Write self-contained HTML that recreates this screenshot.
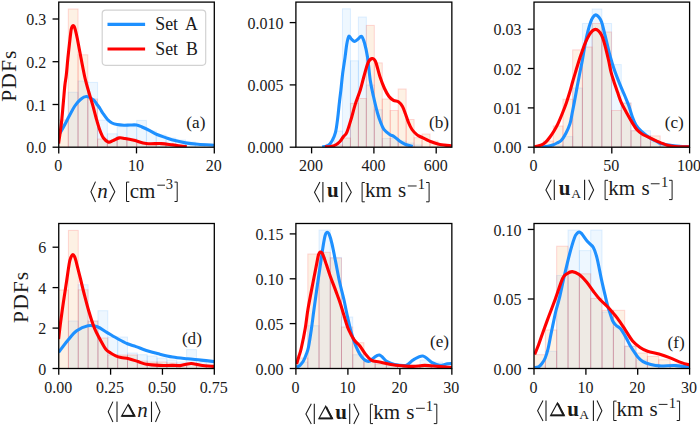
<!DOCTYPE html>
<html><head><meta charset="utf-8"><style>
html,body{margin:0;padding:0;background:#fff;width:700px;height:425px;overflow:hidden;}
svg{display:block;font-family:"Liberation Serif",serif;}
</style></head><body>
<svg width="700" height="425" viewBox="0 0 700 425"><defs>
<clipPath id="c00"><rect x="58.75" y="2.10" width="155.55" height="145.10"/></clipPath>
<clipPath id="c10"><rect x="58.75" y="223.50" width="155.55" height="145.00"/></clipPath>
<clipPath id="c01"><rect x="295.90" y="2.10" width="155.95" height="145.10"/></clipPath>
<clipPath id="c11"><rect x="295.90" y="223.50" width="155.95" height="145.00"/></clipPath>
<clipPath id="c02"><rect x="534.00" y="2.10" width="155.60" height="145.10"/></clipPath>
<clipPath id="c12"><rect x="534.00" y="223.50" width="155.60" height="145.00"/></clipPath>
</defs>
<rect x="68.27" y="92.30" width="9.77" height="54.90" fill="rgba(30,144,255,0.075)" stroke="rgba(30,144,255,0.13)" stroke-width="1" clip-path="url(#c00)"/>
<rect x="78.04" y="81.00" width="9.77" height="66.20" fill="rgba(30,144,255,0.075)" stroke="rgba(30,144,255,0.13)" stroke-width="1" clip-path="url(#c00)"/>
<rect x="87.81" y="82.40" width="9.77" height="64.80" fill="rgba(30,144,255,0.075)" stroke="rgba(30,144,255,0.13)" stroke-width="1" clip-path="url(#c00)"/>
<rect x="97.58" y="120.20" width="9.77" height="27.00" fill="rgba(30,144,255,0.075)" stroke="rgba(30,144,255,0.13)" stroke-width="1" clip-path="url(#c00)"/>
<rect x="107.35" y="133.80" width="9.77" height="13.40" fill="rgba(30,144,255,0.075)" stroke="rgba(30,144,255,0.13)" stroke-width="1" clip-path="url(#c00)"/>
<rect x="117.12" y="126.70" width="9.77" height="20.50" fill="rgba(30,144,255,0.075)" stroke="rgba(30,144,255,0.13)" stroke-width="1" clip-path="url(#c00)"/>
<rect x="126.89" y="126.70" width="9.77" height="20.50" fill="rgba(30,144,255,0.075)" stroke="rgba(30,144,255,0.13)" stroke-width="1" clip-path="url(#c00)"/>
<rect x="136.66" y="120.40" width="9.77" height="26.80" fill="rgba(30,144,255,0.075)" stroke="rgba(30,144,255,0.13)" stroke-width="1" clip-path="url(#c00)"/>
<rect x="146.43" y="131.00" width="9.77" height="16.20" fill="rgba(30,144,255,0.075)" stroke="rgba(30,144,255,0.13)" stroke-width="1" clip-path="url(#c00)"/>
<rect x="156.20" y="135.00" width="9.77" height="12.20" fill="rgba(30,144,255,0.075)" stroke="rgba(30,144,255,0.13)" stroke-width="1" clip-path="url(#c00)"/>
<rect x="165.97" y="138.00" width="9.77" height="9.20" fill="rgba(30,144,255,0.075)" stroke="rgba(30,144,255,0.13)" stroke-width="1" clip-path="url(#c00)"/>
<rect x="175.74" y="140.00" width="9.77" height="7.20" fill="rgba(30,144,255,0.075)" stroke="rgba(30,144,255,0.13)" stroke-width="1" clip-path="url(#c00)"/>
<rect x="185.51" y="142.00" width="9.77" height="5.20" fill="rgba(30,144,255,0.075)" stroke="rgba(30,144,255,0.13)" stroke-width="1" clip-path="url(#c00)"/>
<rect x="195.28" y="144.00" width="9.77" height="3.20" fill="rgba(30,144,255,0.075)" stroke="rgba(30,144,255,0.13)" stroke-width="1" clip-path="url(#c00)"/>
<rect x="58.50" y="120.00" width="9.77" height="27.20" fill="rgba(240,140,30,0.12)" stroke="rgba(255,0,0,0.15)" stroke-width="1" clip-path="url(#c00)"/>
<rect x="68.27" y="9.00" width="9.77" height="138.20" fill="rgba(240,140,30,0.12)" stroke="rgba(255,0,0,0.15)" stroke-width="1" clip-path="url(#c00)"/>
<rect x="78.04" y="54.80" width="9.77" height="92.40" fill="rgba(240,140,30,0.12)" stroke="rgba(255,0,0,0.15)" stroke-width="1" clip-path="url(#c00)"/>
<rect x="87.81" y="99.00" width="9.77" height="48.20" fill="rgba(240,140,30,0.12)" stroke="rgba(255,0,0,0.15)" stroke-width="1" clip-path="url(#c00)"/>
<rect x="97.58" y="139.00" width="9.77" height="8.20" fill="rgba(240,140,30,0.12)" stroke="rgba(255,0,0,0.15)" stroke-width="1" clip-path="url(#c00)"/>
<rect x="107.35" y="140.30" width="9.77" height="6.90" fill="rgba(240,140,30,0.12)" stroke="rgba(255,0,0,0.15)" stroke-width="1" clip-path="url(#c00)"/>
<rect x="117.12" y="137.70" width="9.77" height="9.50" fill="rgba(240,140,30,0.12)" stroke="rgba(255,0,0,0.15)" stroke-width="1" clip-path="url(#c00)"/>
<rect x="126.89" y="139.00" width="9.77" height="8.20" fill="rgba(240,140,30,0.12)" stroke="rgba(255,0,0,0.15)" stroke-width="1" clip-path="url(#c00)"/>
<rect x="136.66" y="143.00" width="9.77" height="4.20" fill="rgba(240,140,30,0.12)" stroke="rgba(255,0,0,0.15)" stroke-width="1" clip-path="url(#c00)"/>
<rect x="146.43" y="143.00" width="9.77" height="4.20" fill="rgba(240,140,30,0.12)" stroke="rgba(255,0,0,0.15)" stroke-width="1" clip-path="url(#c00)"/>
<rect x="156.20" y="144.00" width="9.77" height="3.20" fill="rgba(240,140,30,0.12)" stroke="rgba(255,0,0,0.15)" stroke-width="1" clip-path="url(#c00)"/>
<rect x="165.97" y="145.00" width="9.77" height="2.20" fill="rgba(240,140,30,0.12)" stroke="rgba(255,0,0,0.15)" stroke-width="1" clip-path="url(#c00)"/>
<rect x="175.74" y="145.50" width="9.77" height="1.70" fill="rgba(240,140,30,0.12)" stroke="rgba(255,0,0,0.15)" stroke-width="1" clip-path="url(#c00)"/>
<rect x="326.55" y="144.00" width="7.96" height="3.20" fill="rgba(30,144,255,0.075)" stroke="rgba(30,144,255,0.13)" stroke-width="1" clip-path="url(#c01)"/>
<rect x="334.51" y="131.00" width="7.96" height="16.20" fill="rgba(30,144,255,0.075)" stroke="rgba(30,144,255,0.13)" stroke-width="1" clip-path="url(#c01)"/>
<rect x="342.47" y="8.80" width="7.96" height="138.40" fill="rgba(30,144,255,0.075)" stroke="rgba(30,144,255,0.13)" stroke-width="1" clip-path="url(#c01)"/>
<rect x="350.42" y="60.80" width="7.96" height="86.40" fill="rgba(30,144,255,0.075)" stroke="rgba(30,144,255,0.13)" stroke-width="1" clip-path="url(#c01)"/>
<rect x="358.38" y="17.00" width="7.96" height="130.20" fill="rgba(30,144,255,0.075)" stroke="rgba(30,144,255,0.13)" stroke-width="1" clip-path="url(#c01)"/>
<rect x="366.34" y="85.00" width="7.96" height="62.20" fill="rgba(30,144,255,0.075)" stroke="rgba(30,144,255,0.13)" stroke-width="1" clip-path="url(#c01)"/>
<rect x="374.30" y="109.70" width="7.96" height="37.50" fill="rgba(30,144,255,0.075)" stroke="rgba(30,144,255,0.13)" stroke-width="1" clip-path="url(#c01)"/>
<rect x="382.26" y="138.50" width="7.96" height="8.70" fill="rgba(30,144,255,0.075)" stroke="rgba(30,144,255,0.13)" stroke-width="1" clip-path="url(#c01)"/>
<rect x="390.21" y="138.50" width="7.96" height="8.70" fill="rgba(30,144,255,0.075)" stroke="rgba(30,144,255,0.13)" stroke-width="1" clip-path="url(#c01)"/>
<rect x="398.17" y="141.00" width="7.96" height="6.20" fill="rgba(30,144,255,0.075)" stroke="rgba(30,144,255,0.13)" stroke-width="1" clip-path="url(#c01)"/>
<rect x="406.13" y="143.00" width="7.96" height="4.20" fill="rgba(30,144,255,0.075)" stroke="rgba(30,144,255,0.13)" stroke-width="1" clip-path="url(#c01)"/>
<rect x="414.09" y="145.00" width="7.96" height="2.20" fill="rgba(30,144,255,0.075)" stroke="rgba(30,144,255,0.13)" stroke-width="1" clip-path="url(#c01)"/>
<rect x="326.55" y="145.00" width="7.96" height="2.20" fill="rgba(240,140,30,0.12)" stroke="rgba(255,0,0,0.15)" stroke-width="1" clip-path="url(#c01)"/>
<rect x="334.51" y="145.00" width="7.96" height="2.20" fill="rgba(240,140,30,0.12)" stroke="rgba(255,0,0,0.15)" stroke-width="1" clip-path="url(#c01)"/>
<rect x="342.47" y="138.00" width="7.96" height="9.20" fill="rgba(240,140,30,0.12)" stroke="rgba(255,0,0,0.15)" stroke-width="1" clip-path="url(#c01)"/>
<rect x="350.42" y="103.40" width="7.96" height="43.80" fill="rgba(240,140,30,0.12)" stroke="rgba(255,0,0,0.15)" stroke-width="1" clip-path="url(#c01)"/>
<rect x="358.38" y="98.50" width="7.96" height="48.70" fill="rgba(240,140,30,0.12)" stroke="rgba(255,0,0,0.15)" stroke-width="1" clip-path="url(#c01)"/>
<rect x="366.34" y="25.40" width="7.96" height="121.80" fill="rgba(240,140,30,0.12)" stroke="rgba(255,0,0,0.15)" stroke-width="1" clip-path="url(#c01)"/>
<rect x="374.30" y="62.90" width="7.96" height="84.30" fill="rgba(240,140,30,0.12)" stroke="rgba(255,0,0,0.15)" stroke-width="1" clip-path="url(#c01)"/>
<rect x="382.26" y="99.00" width="7.96" height="48.20" fill="rgba(240,140,30,0.12)" stroke="rgba(255,0,0,0.15)" stroke-width="1" clip-path="url(#c01)"/>
<rect x="390.21" y="110.50" width="7.96" height="36.70" fill="rgba(240,140,30,0.12)" stroke="rgba(255,0,0,0.15)" stroke-width="1" clip-path="url(#c01)"/>
<rect x="398.17" y="89.00" width="7.96" height="58.20" fill="rgba(240,140,30,0.12)" stroke="rgba(255,0,0,0.15)" stroke-width="1" clip-path="url(#c01)"/>
<rect x="406.13" y="119.50" width="7.96" height="27.70" fill="rgba(240,140,30,0.12)" stroke="rgba(255,0,0,0.15)" stroke-width="1" clip-path="url(#c01)"/>
<rect x="414.09" y="137.70" width="7.96" height="9.50" fill="rgba(240,140,30,0.12)" stroke="rgba(255,0,0,0.15)" stroke-width="1" clip-path="url(#c01)"/>
<rect x="422.05" y="134.00" width="7.96" height="13.20" fill="rgba(240,140,30,0.12)" stroke="rgba(255,0,0,0.15)" stroke-width="1" clip-path="url(#c01)"/>
<rect x="430.00" y="141.00" width="7.96" height="6.20" fill="rgba(240,140,30,0.12)" stroke="rgba(255,0,0,0.15)" stroke-width="1" clip-path="url(#c01)"/>
<rect x="437.96" y="144.00" width="7.96" height="3.20" fill="rgba(240,140,30,0.12)" stroke="rgba(255,0,0,0.15)" stroke-width="1" clip-path="url(#c01)"/>
<rect x="445.92" y="145.50" width="7.96" height="1.70" fill="rgba(240,140,30,0.12)" stroke="rgba(255,0,0,0.15)" stroke-width="1" clip-path="url(#c01)"/>
<rect x="553.24" y="145.00" width="9.72" height="2.20" fill="rgba(30,144,255,0.075)" stroke="rgba(30,144,255,0.13)" stroke-width="1" clip-path="url(#c02)"/>
<rect x="562.96" y="136.60" width="9.72" height="10.60" fill="rgba(30,144,255,0.075)" stroke="rgba(30,144,255,0.13)" stroke-width="1" clip-path="url(#c02)"/>
<rect x="572.68" y="88.00" width="9.72" height="59.20" fill="rgba(30,144,255,0.075)" stroke="rgba(30,144,255,0.13)" stroke-width="1" clip-path="url(#c02)"/>
<rect x="582.40" y="23.50" width="9.72" height="123.70" fill="rgba(30,144,255,0.075)" stroke="rgba(30,144,255,0.13)" stroke-width="1" clip-path="url(#c02)"/>
<rect x="592.12" y="9.00" width="9.72" height="138.20" fill="rgba(30,144,255,0.075)" stroke="rgba(30,144,255,0.13)" stroke-width="1" clip-path="url(#c02)"/>
<rect x="601.84" y="23.50" width="9.72" height="123.70" fill="rgba(30,144,255,0.075)" stroke="rgba(30,144,255,0.13)" stroke-width="1" clip-path="url(#c02)"/>
<rect x="611.56" y="64.60" width="9.72" height="82.60" fill="rgba(30,144,255,0.075)" stroke="rgba(30,144,255,0.13)" stroke-width="1" clip-path="url(#c02)"/>
<rect x="621.28" y="103.00" width="9.72" height="44.20" fill="rgba(30,144,255,0.075)" stroke="rgba(30,144,255,0.13)" stroke-width="1" clip-path="url(#c02)"/>
<rect x="631.00" y="130.70" width="9.72" height="16.50" fill="rgba(30,144,255,0.075)" stroke="rgba(30,144,255,0.13)" stroke-width="1" clip-path="url(#c02)"/>
<rect x="640.72" y="130.70" width="9.72" height="16.50" fill="rgba(30,144,255,0.075)" stroke="rgba(30,144,255,0.13)" stroke-width="1" clip-path="url(#c02)"/>
<rect x="650.44" y="142.00" width="9.72" height="5.20" fill="rgba(30,144,255,0.075)" stroke="rgba(30,144,255,0.13)" stroke-width="1" clip-path="url(#c02)"/>
<rect x="660.16" y="145.00" width="9.72" height="2.20" fill="rgba(30,144,255,0.075)" stroke="rgba(30,144,255,0.13)" stroke-width="1" clip-path="url(#c02)"/>
<rect x="543.52" y="141.00" width="9.72" height="6.20" fill="rgba(240,140,30,0.12)" stroke="rgba(255,0,0,0.15)" stroke-width="1" clip-path="url(#c02)"/>
<rect x="553.24" y="126.00" width="9.72" height="21.20" fill="rgba(240,140,30,0.12)" stroke="rgba(255,0,0,0.15)" stroke-width="1" clip-path="url(#c02)"/>
<rect x="562.96" y="99.20" width="9.72" height="48.00" fill="rgba(240,140,30,0.12)" stroke="rgba(255,0,0,0.15)" stroke-width="1" clip-path="url(#c02)"/>
<rect x="572.68" y="49.90" width="9.72" height="97.30" fill="rgba(240,140,30,0.12)" stroke="rgba(255,0,0,0.15)" stroke-width="1" clip-path="url(#c02)"/>
<rect x="582.40" y="47.00" width="9.72" height="100.20" fill="rgba(240,140,30,0.12)" stroke="rgba(255,0,0,0.15)" stroke-width="1" clip-path="url(#c02)"/>
<rect x="592.12" y="23.50" width="9.72" height="123.70" fill="rgba(240,140,30,0.12)" stroke="rgba(255,0,0,0.15)" stroke-width="1" clip-path="url(#c02)"/>
<rect x="601.84" y="32.00" width="9.72" height="115.20" fill="rgba(240,140,30,0.12)" stroke="rgba(255,0,0,0.15)" stroke-width="1" clip-path="url(#c02)"/>
<rect x="611.56" y="110.50" width="9.72" height="36.70" fill="rgba(240,140,30,0.12)" stroke="rgba(255,0,0,0.15)" stroke-width="1" clip-path="url(#c02)"/>
<rect x="621.28" y="103.00" width="9.72" height="44.20" fill="rgba(240,140,30,0.12)" stroke="rgba(255,0,0,0.15)" stroke-width="1" clip-path="url(#c02)"/>
<rect x="631.00" y="130.70" width="9.72" height="16.50" fill="rgba(240,140,30,0.12)" stroke="rgba(255,0,0,0.15)" stroke-width="1" clip-path="url(#c02)"/>
<rect x="640.72" y="135.90" width="9.72" height="11.30" fill="rgba(240,140,30,0.12)" stroke="rgba(255,0,0,0.15)" stroke-width="1" clip-path="url(#c02)"/>
<rect x="650.44" y="135.90" width="9.72" height="11.30" fill="rgba(240,140,30,0.12)" stroke="rgba(255,0,0,0.15)" stroke-width="1" clip-path="url(#c02)"/>
<rect x="660.16" y="144.00" width="9.72" height="3.20" fill="rgba(240,140,30,0.12)" stroke="rgba(255,0,0,0.15)" stroke-width="1" clip-path="url(#c02)"/>
<rect x="669.88" y="145.00" width="9.72" height="2.20" fill="rgba(240,140,30,0.12)" stroke="rgba(255,0,0,0.15)" stroke-width="1" clip-path="url(#c02)"/>
<rect x="68.40" y="321.00" width="9.85" height="47.50" fill="rgba(30,144,255,0.075)" stroke="rgba(30,144,255,0.13)" stroke-width="1" clip-path="url(#c10)"/>
<rect x="78.25" y="284.70" width="9.85" height="83.80" fill="rgba(30,144,255,0.075)" stroke="rgba(30,144,255,0.13)" stroke-width="1" clip-path="url(#c10)"/>
<rect x="88.10" y="321.00" width="9.85" height="47.50" fill="rgba(30,144,255,0.075)" stroke="rgba(30,144,255,0.13)" stroke-width="1" clip-path="url(#c10)"/>
<rect x="97.95" y="310.70" width="9.85" height="57.80" fill="rgba(30,144,255,0.075)" stroke="rgba(30,144,255,0.13)" stroke-width="1" clip-path="url(#c10)"/>
<rect x="107.80" y="337.00" width="9.85" height="31.50" fill="rgba(30,144,255,0.075)" stroke="rgba(30,144,255,0.13)" stroke-width="1" clip-path="url(#c10)"/>
<rect x="117.65" y="337.00" width="9.85" height="31.50" fill="rgba(30,144,255,0.075)" stroke="rgba(30,144,255,0.13)" stroke-width="1" clip-path="url(#c10)"/>
<rect x="127.50" y="353.00" width="9.85" height="15.50" fill="rgba(30,144,255,0.075)" stroke="rgba(30,144,255,0.13)" stroke-width="1" clip-path="url(#c10)"/>
<rect x="137.35" y="354.70" width="9.85" height="13.80" fill="rgba(30,144,255,0.075)" stroke="rgba(30,144,255,0.13)" stroke-width="1" clip-path="url(#c10)"/>
<rect x="147.20" y="356.00" width="9.85" height="12.50" fill="rgba(30,144,255,0.075)" stroke="rgba(30,144,255,0.13)" stroke-width="1" clip-path="url(#c10)"/>
<rect x="157.05" y="358.00" width="9.85" height="10.50" fill="rgba(30,144,255,0.075)" stroke="rgba(30,144,255,0.13)" stroke-width="1" clip-path="url(#c10)"/>
<rect x="166.90" y="360.00" width="9.85" height="8.50" fill="rgba(30,144,255,0.075)" stroke="rgba(30,144,255,0.13)" stroke-width="1" clip-path="url(#c10)"/>
<rect x="176.75" y="362.00" width="9.85" height="6.50" fill="rgba(30,144,255,0.075)" stroke="rgba(30,144,255,0.13)" stroke-width="1" clip-path="url(#c10)"/>
<rect x="186.60" y="349.60" width="9.85" height="18.90" fill="rgba(30,144,255,0.075)" stroke="rgba(30,144,255,0.13)" stroke-width="1" clip-path="url(#c10)"/>
<rect x="196.45" y="362.00" width="9.85" height="6.50" fill="rgba(30,144,255,0.075)" stroke="rgba(30,144,255,0.13)" stroke-width="1" clip-path="url(#c10)"/>
<rect x="206.30" y="364.00" width="9.85" height="4.50" fill="rgba(30,144,255,0.075)" stroke="rgba(30,144,255,0.13)" stroke-width="1" clip-path="url(#c10)"/>
<rect x="58.55" y="290.00" width="9.85" height="78.50" fill="rgba(240,140,30,0.12)" stroke="rgba(255,0,0,0.15)" stroke-width="1" clip-path="url(#c10)"/>
<rect x="68.40" y="230.40" width="9.85" height="138.10" fill="rgba(240,140,30,0.12)" stroke="rgba(255,0,0,0.15)" stroke-width="1" clip-path="url(#c10)"/>
<rect x="78.25" y="289.80" width="9.85" height="78.70" fill="rgba(240,140,30,0.12)" stroke="rgba(255,0,0,0.15)" stroke-width="1" clip-path="url(#c10)"/>
<rect x="88.10" y="321.00" width="9.85" height="47.50" fill="rgba(240,140,30,0.12)" stroke="rgba(255,0,0,0.15)" stroke-width="1" clip-path="url(#c10)"/>
<rect x="97.95" y="338.00" width="9.85" height="30.50" fill="rgba(240,140,30,0.12)" stroke="rgba(255,0,0,0.15)" stroke-width="1" clip-path="url(#c10)"/>
<rect x="107.80" y="355.00" width="9.85" height="13.50" fill="rgba(240,140,30,0.12)" stroke="rgba(255,0,0,0.15)" stroke-width="1" clip-path="url(#c10)"/>
<rect x="117.65" y="355.00" width="9.85" height="13.50" fill="rgba(240,140,30,0.12)" stroke="rgba(255,0,0,0.15)" stroke-width="1" clip-path="url(#c10)"/>
<rect x="127.50" y="355.00" width="9.85" height="13.50" fill="rgba(240,140,30,0.12)" stroke="rgba(255,0,0,0.15)" stroke-width="1" clip-path="url(#c10)"/>
<rect x="137.35" y="361.00" width="9.85" height="7.50" fill="rgba(240,140,30,0.12)" stroke="rgba(255,0,0,0.15)" stroke-width="1" clip-path="url(#c10)"/>
<rect x="147.20" y="362.00" width="9.85" height="6.50" fill="rgba(240,140,30,0.12)" stroke="rgba(255,0,0,0.15)" stroke-width="1" clip-path="url(#c10)"/>
<rect x="157.05" y="362.00" width="9.85" height="6.50" fill="rgba(240,140,30,0.12)" stroke="rgba(255,0,0,0.15)" stroke-width="1" clip-path="url(#c10)"/>
<rect x="166.90" y="363.00" width="9.85" height="5.50" fill="rgba(240,140,30,0.12)" stroke="rgba(255,0,0,0.15)" stroke-width="1" clip-path="url(#c10)"/>
<rect x="176.75" y="364.00" width="9.85" height="4.50" fill="rgba(240,140,30,0.12)" stroke="rgba(255,0,0,0.15)" stroke-width="1" clip-path="url(#c10)"/>
<rect x="186.60" y="364.00" width="9.85" height="4.50" fill="rgba(240,140,30,0.12)" stroke="rgba(255,0,0,0.15)" stroke-width="1" clip-path="url(#c10)"/>
<rect x="196.45" y="366.00" width="9.85" height="2.50" fill="rgba(240,140,30,0.12)" stroke="rgba(255,0,0,0.15)" stroke-width="1" clip-path="url(#c10)"/>
<rect x="206.30" y="366.00" width="9.85" height="2.50" fill="rgba(240,140,30,0.12)" stroke="rgba(255,0,0,0.15)" stroke-width="1" clip-path="url(#c10)"/>
<rect x="296.60" y="362.00" width="11.22" height="6.50" fill="rgba(30,144,255,0.075)" stroke="rgba(30,144,255,0.13)" stroke-width="1" clip-path="url(#c11)"/>
<rect x="307.82" y="325.70" width="11.22" height="42.80" fill="rgba(30,144,255,0.075)" stroke="rgba(30,144,255,0.13)" stroke-width="1" clip-path="url(#c11)"/>
<rect x="319.04" y="230.10" width="11.22" height="138.40" fill="rgba(30,144,255,0.075)" stroke="rgba(30,144,255,0.13)" stroke-width="1" clip-path="url(#c11)"/>
<rect x="330.26" y="257.40" width="11.22" height="111.10" fill="rgba(30,144,255,0.075)" stroke="rgba(30,144,255,0.13)" stroke-width="1" clip-path="url(#c11)"/>
<rect x="341.48" y="317.00" width="11.22" height="51.50" fill="rgba(30,144,255,0.075)" stroke="rgba(30,144,255,0.13)" stroke-width="1" clip-path="url(#c11)"/>
<rect x="352.70" y="354.70" width="11.22" height="13.80" fill="rgba(30,144,255,0.075)" stroke="rgba(30,144,255,0.13)" stroke-width="1" clip-path="url(#c11)"/>
<rect x="363.92" y="362.00" width="11.22" height="6.50" fill="rgba(30,144,255,0.075)" stroke="rgba(30,144,255,0.13)" stroke-width="1" clip-path="url(#c11)"/>
<rect x="375.14" y="362.00" width="11.22" height="6.50" fill="rgba(30,144,255,0.075)" stroke="rgba(30,144,255,0.13)" stroke-width="1" clip-path="url(#c11)"/>
<rect x="386.36" y="364.00" width="11.22" height="4.50" fill="rgba(30,144,255,0.075)" stroke="rgba(30,144,255,0.13)" stroke-width="1" clip-path="url(#c11)"/>
<rect x="397.58" y="365.00" width="11.22" height="3.50" fill="rgba(30,144,255,0.075)" stroke="rgba(30,144,255,0.13)" stroke-width="1" clip-path="url(#c11)"/>
<rect x="408.80" y="365.00" width="11.22" height="3.50" fill="rgba(30,144,255,0.075)" stroke="rgba(30,144,255,0.13)" stroke-width="1" clip-path="url(#c11)"/>
<rect x="420.02" y="360.00" width="11.22" height="8.50" fill="rgba(30,144,255,0.075)" stroke="rgba(30,144,255,0.13)" stroke-width="1" clip-path="url(#c11)"/>
<rect x="431.24" y="362.00" width="11.22" height="6.50" fill="rgba(30,144,255,0.075)" stroke="rgba(30,144,255,0.13)" stroke-width="1" clip-path="url(#c11)"/>
<rect x="442.46" y="366.00" width="11.22" height="2.50" fill="rgba(30,144,255,0.075)" stroke="rgba(30,144,255,0.13)" stroke-width="1" clip-path="url(#c11)"/>
<rect x="296.60" y="358.00" width="11.22" height="10.50" fill="rgba(240,140,30,0.12)" stroke="rgba(255,0,0,0.15)" stroke-width="1" clip-path="url(#c11)"/>
<rect x="307.82" y="254.00" width="11.22" height="114.50" fill="rgba(240,140,30,0.12)" stroke="rgba(255,0,0,0.15)" stroke-width="1" clip-path="url(#c11)"/>
<rect x="319.04" y="252.30" width="11.22" height="116.20" fill="rgba(240,140,30,0.12)" stroke="rgba(255,0,0,0.15)" stroke-width="1" clip-path="url(#c11)"/>
<rect x="330.26" y="258.00" width="11.22" height="110.50" fill="rgba(240,140,30,0.12)" stroke="rgba(255,0,0,0.15)" stroke-width="1" clip-path="url(#c11)"/>
<rect x="341.48" y="327.00" width="11.22" height="41.50" fill="rgba(240,140,30,0.12)" stroke="rgba(255,0,0,0.15)" stroke-width="1" clip-path="url(#c11)"/>
<rect x="352.70" y="342.70" width="11.22" height="25.80" fill="rgba(240,140,30,0.12)" stroke="rgba(255,0,0,0.15)" stroke-width="1" clip-path="url(#c11)"/>
<rect x="363.92" y="360.00" width="11.22" height="8.50" fill="rgba(240,140,30,0.12)" stroke="rgba(255,0,0,0.15)" stroke-width="1" clip-path="url(#c11)"/>
<rect x="375.14" y="364.00" width="11.22" height="4.50" fill="rgba(240,140,30,0.12)" stroke="rgba(255,0,0,0.15)" stroke-width="1" clip-path="url(#c11)"/>
<rect x="386.36" y="365.00" width="11.22" height="3.50" fill="rgba(240,140,30,0.12)" stroke="rgba(255,0,0,0.15)" stroke-width="1" clip-path="url(#c11)"/>
<rect x="397.58" y="366.00" width="11.22" height="2.50" fill="rgba(240,140,30,0.12)" stroke="rgba(255,0,0,0.15)" stroke-width="1" clip-path="url(#c11)"/>
<rect x="408.80" y="366.00" width="11.22" height="2.50" fill="rgba(240,140,30,0.12)" stroke="rgba(255,0,0,0.15)" stroke-width="1" clip-path="url(#c11)"/>
<rect x="420.02" y="366.00" width="11.22" height="2.50" fill="rgba(240,140,30,0.12)" stroke="rgba(255,0,0,0.15)" stroke-width="1" clip-path="url(#c11)"/>
<rect x="431.24" y="366.00" width="11.22" height="2.50" fill="rgba(240,140,30,0.12)" stroke="rgba(255,0,0,0.15)" stroke-width="1" clip-path="url(#c11)"/>
<rect x="442.46" y="367.00" width="11.22" height="1.50" fill="rgba(240,140,30,0.12)" stroke="rgba(255,0,0,0.15)" stroke-width="1" clip-path="url(#c11)"/>
<rect x="534.00" y="366.00" width="11.34" height="2.50" fill="rgba(30,144,255,0.075)" stroke="rgba(30,144,255,0.13)" stroke-width="1" clip-path="url(#c12)"/>
<rect x="545.34" y="351.30" width="11.34" height="17.20" fill="rgba(30,144,255,0.075)" stroke="rgba(30,144,255,0.13)" stroke-width="1" clip-path="url(#c12)"/>
<rect x="556.68" y="275.50" width="11.34" height="93.00" fill="rgba(30,144,255,0.075)" stroke="rgba(30,144,255,0.13)" stroke-width="1" clip-path="url(#c12)"/>
<rect x="568.02" y="230.10" width="11.34" height="138.40" fill="rgba(30,144,255,0.075)" stroke="rgba(30,144,255,0.13)" stroke-width="1" clip-path="url(#c12)"/>
<rect x="579.36" y="250.60" width="11.34" height="117.90" fill="rgba(30,144,255,0.075)" stroke="rgba(30,144,255,0.13)" stroke-width="1" clip-path="url(#c12)"/>
<rect x="590.70" y="230.10" width="11.34" height="138.40" fill="rgba(30,144,255,0.075)" stroke="rgba(30,144,255,0.13)" stroke-width="1" clip-path="url(#c12)"/>
<rect x="602.04" y="312.00" width="11.34" height="56.50" fill="rgba(30,144,255,0.075)" stroke="rgba(30,144,255,0.13)" stroke-width="1" clip-path="url(#c12)"/>
<rect x="613.38" y="327.40" width="11.34" height="41.10" fill="rgba(30,144,255,0.075)" stroke="rgba(30,144,255,0.13)" stroke-width="1" clip-path="url(#c12)"/>
<rect x="624.72" y="346.20" width="11.34" height="22.30" fill="rgba(30,144,255,0.075)" stroke="rgba(30,144,255,0.13)" stroke-width="1" clip-path="url(#c12)"/>
<rect x="636.06" y="360.00" width="11.34" height="8.50" fill="rgba(30,144,255,0.075)" stroke="rgba(30,144,255,0.13)" stroke-width="1" clip-path="url(#c12)"/>
<rect x="647.40" y="364.00" width="11.34" height="4.50" fill="rgba(30,144,255,0.075)" stroke="rgba(30,144,255,0.13)" stroke-width="1" clip-path="url(#c12)"/>
<rect x="658.74" y="365.00" width="11.34" height="3.50" fill="rgba(30,144,255,0.075)" stroke="rgba(30,144,255,0.13)" stroke-width="1" clip-path="url(#c12)"/>
<rect x="670.08" y="366.00" width="11.34" height="2.50" fill="rgba(30,144,255,0.075)" stroke="rgba(30,144,255,0.13)" stroke-width="1" clip-path="url(#c12)"/>
<rect x="681.42" y="366.00" width="11.34" height="2.50" fill="rgba(30,144,255,0.075)" stroke="rgba(30,144,255,0.13)" stroke-width="1" clip-path="url(#c12)"/>
<rect x="534.00" y="354.70" width="11.34" height="13.80" fill="rgba(240,140,30,0.12)" stroke="rgba(255,0,0,0.15)" stroke-width="1" clip-path="url(#c12)"/>
<rect x="545.34" y="330.00" width="11.34" height="38.50" fill="rgba(240,140,30,0.12)" stroke="rgba(255,0,0,0.15)" stroke-width="1" clip-path="url(#c12)"/>
<rect x="556.68" y="246.20" width="11.34" height="122.30" fill="rgba(240,140,30,0.12)" stroke="rgba(255,0,0,0.15)" stroke-width="1" clip-path="url(#c12)"/>
<rect x="568.02" y="272.80" width="11.34" height="95.70" fill="rgba(240,140,30,0.12)" stroke="rgba(255,0,0,0.15)" stroke-width="1" clip-path="url(#c12)"/>
<rect x="579.36" y="273.80" width="11.34" height="94.70" fill="rgba(240,140,30,0.12)" stroke="rgba(255,0,0,0.15)" stroke-width="1" clip-path="url(#c12)"/>
<rect x="590.70" y="298.40" width="11.34" height="70.10" fill="rgba(240,140,30,0.12)" stroke="rgba(255,0,0,0.15)" stroke-width="1" clip-path="url(#c12)"/>
<rect x="602.04" y="310.30" width="11.34" height="58.20" fill="rgba(240,140,30,0.12)" stroke="rgba(255,0,0,0.15)" stroke-width="1" clip-path="url(#c12)"/>
<rect x="613.38" y="310.30" width="11.34" height="58.20" fill="rgba(240,140,30,0.12)" stroke="rgba(255,0,0,0.15)" stroke-width="1" clip-path="url(#c12)"/>
<rect x="624.72" y="346.20" width="11.34" height="22.30" fill="rgba(240,140,30,0.12)" stroke="rgba(255,0,0,0.15)" stroke-width="1" clip-path="url(#c12)"/>
<rect x="636.06" y="353.00" width="11.34" height="15.50" fill="rgba(240,140,30,0.12)" stroke="rgba(255,0,0,0.15)" stroke-width="1" clip-path="url(#c12)"/>
<rect x="647.40" y="356.40" width="11.34" height="12.10" fill="rgba(240,140,30,0.12)" stroke="rgba(255,0,0,0.15)" stroke-width="1" clip-path="url(#c12)"/>
<rect x="658.74" y="359.80" width="11.34" height="8.70" fill="rgba(240,140,30,0.12)" stroke="rgba(255,0,0,0.15)" stroke-width="1" clip-path="url(#c12)"/>
<rect x="670.08" y="364.00" width="11.34" height="4.50" fill="rgba(240,140,30,0.12)" stroke="rgba(255,0,0,0.15)" stroke-width="1" clip-path="url(#c12)"/>
<rect x="681.42" y="366.00" width="11.34" height="2.50" fill="rgba(240,140,30,0.12)" stroke="rgba(255,0,0,0.15)" stroke-width="1" clip-path="url(#c12)"/>
<path d="M58.60,135.50 C59.42,134.08 61.68,130.32 63.50,127.00 C65.32,123.68 67.62,119.10 69.50,115.60 C71.38,112.10 72.97,108.68 74.80,106.00 C76.63,103.32 78.58,101.08 80.50,99.50 C82.42,97.92 84.12,96.42 86.30,96.50 C88.48,96.58 91.82,98.67 93.60,100.00 C95.38,101.33 95.93,103.08 97.00,104.50 C98.07,105.92 99.00,107.00 100.00,108.50 C101.00,110.00 101.75,111.67 103.00,113.50 C104.25,115.33 106.00,117.92 107.50,119.50 C109.00,121.08 110.42,122.15 112.00,123.00 C113.58,123.85 115.00,124.23 117.00,124.60 C119.00,124.97 121.83,125.13 124.00,125.20 C126.17,125.27 127.92,125.03 130.00,125.00 C132.08,124.97 134.50,124.67 136.50,125.00 C138.50,125.33 139.87,126.10 142.00,127.00 C144.13,127.90 146.80,129.15 149.30,130.40 C151.80,131.65 154.27,133.30 157.00,134.50 C159.73,135.70 162.70,136.58 165.70,137.60 C168.70,138.62 171.72,139.72 175.00,140.60 C178.28,141.48 181.57,142.28 185.40,142.90 C189.23,143.52 193.18,143.92 198.00,144.30 C202.82,144.68 211.58,145.05 214.30,145.20" fill="none" stroke="#1e90ff" stroke-width="3.1" stroke-linejoin="round" stroke-linecap="butt" clip-path="url(#c00)"/>
<path d="M58.60,143.50 C59.07,140.12 60.63,129.78 61.40,123.20 C62.17,116.62 62.62,110.37 63.20,104.00 C63.78,97.63 64.38,89.83 64.90,85.00 C65.42,80.17 65.80,79.50 66.30,75.00 C66.80,70.50 67.28,64.00 67.90,58.00 C68.52,52.00 69.45,43.75 70.00,39.00 C70.55,34.25 70.83,31.58 71.20,29.50 C71.57,27.42 71.87,27.15 72.20,26.50 C72.53,25.85 72.87,25.60 73.20,25.60 C73.53,25.60 73.87,25.88 74.20,26.50 C74.53,27.12 74.68,27.30 75.20,29.30 C75.72,31.30 76.32,33.63 77.30,38.50 C78.28,43.37 79.80,51.83 81.10,58.50 C82.40,65.17 83.82,72.92 85.10,78.50 C86.38,84.08 87.57,87.68 88.80,92.00 C90.03,96.32 91.30,100.15 92.50,104.40 C93.70,108.65 94.78,113.23 96.00,117.50 C97.22,121.77 98.55,126.58 99.80,130.00 C101.05,133.42 102.05,135.97 103.50,138.00 C104.95,140.03 106.92,141.77 108.50,142.20 C110.08,142.63 111.22,141.32 113.00,140.60 C114.78,139.88 117.20,138.25 119.20,137.90 C121.20,137.55 122.37,138.05 125.00,138.50 C127.63,138.95 131.45,139.77 135.00,140.60 C138.55,141.43 141.90,143.00 146.30,143.50 C150.70,144.00 157.02,143.37 161.40,143.60 C165.78,143.83 168.37,144.37 172.60,144.90 C176.83,145.43 184.43,146.48 186.80,146.80" fill="none" stroke="#ff0000" stroke-width="3.1" stroke-linejoin="round" stroke-linecap="butt" clip-path="url(#c00)"/>
<path d="M322.20,146.90 C323.17,146.67 326.37,146.48 328.00,145.50 C329.63,144.52 330.75,143.18 332.00,141.00 C333.25,138.82 334.55,136.20 335.50,132.40 C336.45,128.60 337.08,122.92 337.70,118.20 C338.32,113.48 338.67,108.80 339.20,104.10 C339.73,99.40 340.33,95.02 340.90,90.00 C341.47,84.98 341.92,79.40 342.60,74.00 C343.28,68.60 344.30,62.60 345.00,57.60 C345.70,52.60 346.17,47.55 346.80,44.00 C347.43,40.45 348.02,37.10 348.80,36.30 C349.58,35.50 350.55,38.35 351.50,39.20 C352.45,40.05 353.45,41.40 354.50,41.40 C355.55,41.40 356.63,40.05 357.80,39.20 C358.97,38.35 360.38,35.67 361.50,36.30 C362.62,36.93 363.48,39.45 364.50,43.00 C365.52,46.55 366.65,51.43 367.60,57.60 C368.55,63.77 369.22,73.52 370.20,80.00 C371.18,86.48 372.28,91.00 373.50,96.50 C374.72,102.00 376.33,108.75 377.50,113.00 C378.67,117.25 379.43,119.27 380.50,122.00 C381.57,124.73 382.37,127.33 383.90,129.40 C385.43,131.47 388.02,133.22 389.70,134.40 C391.38,135.58 392.37,135.40 394.00,136.50 C395.63,137.60 397.67,139.72 399.50,141.00 C401.33,142.28 402.80,143.30 405.00,144.20 C407.20,145.10 411.42,146.03 412.70,146.40" fill="none" stroke="#1e90ff" stroke-width="3.1" stroke-linejoin="round" stroke-linecap="butt" clip-path="url(#c01)"/>
<path d="M325.00,146.90 C326.00,146.82 329.25,146.72 331.00,146.40 C332.75,146.08 334.00,145.82 335.50,145.00 C337.00,144.18 338.67,142.92 340.00,141.50 C341.33,140.08 342.37,138.02 343.50,136.50 C344.63,134.98 345.48,135.45 346.80,132.40 C348.12,129.35 349.98,122.92 351.40,118.20 C352.82,113.48 353.82,108.80 355.30,104.10 C356.78,99.40 358.87,94.60 360.30,90.00 C361.73,85.40 362.62,81.03 363.90,76.50 C365.18,71.97 366.68,65.78 368.00,62.80 C369.32,59.82 370.55,58.82 371.80,58.60 C373.05,58.38 374.15,58.52 375.50,61.50 C376.85,64.48 378.40,72.00 379.90,76.50 C381.40,81.00 382.98,85.17 384.50,88.50 C386.02,91.83 387.50,94.53 389.00,96.50 C390.50,98.47 391.88,99.38 393.50,100.30 C395.12,101.22 397.20,100.97 398.70,102.00 C400.20,103.03 401.37,104.50 402.50,106.50 C403.63,108.50 404.50,111.33 405.50,114.00 C406.50,116.67 407.42,119.92 408.50,122.50 C409.58,125.08 410.62,127.48 412.00,129.50 C413.38,131.52 415.28,133.35 416.80,134.60 C418.32,135.85 418.82,135.85 421.10,137.00 C423.38,138.15 427.37,140.27 430.50,141.50 C433.63,142.73 436.35,143.68 439.90,144.40 C443.45,145.12 449.82,145.57 451.80,145.80" fill="none" stroke="#ff0000" stroke-width="3.1" stroke-linejoin="round" stroke-linecap="butt" clip-path="url(#c01)"/>
<path d="M541.40,146.80 C542.50,146.72 546.12,146.60 548.00,146.30 C549.88,146.00 551.20,145.55 552.70,145.00 C554.20,144.45 555.58,143.75 557.00,143.00 C558.42,142.25 559.73,142.08 561.20,140.50 C562.67,138.92 564.33,136.32 565.80,133.50 C567.27,130.68 568.93,127.02 570.00,123.60 C571.07,120.18 571.48,116.53 572.20,113.00 C572.92,109.47 573.62,105.98 574.30,102.40 C574.98,98.82 575.65,95.03 576.30,91.50 C576.95,87.97 577.53,84.70 578.20,81.20 C578.87,77.70 579.60,74.03 580.30,70.50 C581.00,66.97 581.55,64.65 582.40,60.00 C583.25,55.35 584.47,47.43 585.40,42.60 C586.33,37.77 587.15,34.35 588.00,31.00 C588.85,27.65 589.67,24.80 590.50,22.50 C591.33,20.20 592.12,18.47 593.00,17.20 C593.88,15.93 594.83,14.93 595.80,14.90 C596.77,14.87 597.83,15.82 598.80,17.00 C599.77,18.18 600.53,18.83 601.60,22.00 C602.67,25.17 604.03,31.33 605.20,36.00 C606.37,40.67 607.78,46.67 608.60,50.00 C609.42,53.33 609.23,52.95 610.10,56.00 C610.97,59.05 612.23,63.73 613.80,68.30 C615.37,72.87 617.62,78.70 619.50,83.40 C621.38,88.10 623.53,92.73 625.10,96.50 C626.67,100.27 627.68,102.58 628.90,106.00 C630.12,109.42 631.22,113.83 632.40,117.00 C633.58,120.17 634.48,122.58 636.00,125.00 C637.52,127.42 638.93,129.17 641.50,131.50 C644.07,133.83 648.82,137.33 651.40,139.00 C653.98,140.67 655.43,140.75 657.00,141.50 C658.57,142.25 657.97,142.80 660.80,143.50 C663.63,144.20 669.20,145.15 674.00,145.70 C678.80,146.25 687.00,146.62 689.60,146.80" fill="none" stroke="#1e90ff" stroke-width="3.1" stroke-linejoin="round" stroke-linecap="butt" clip-path="url(#c02)"/>
<path d="M534.60,146.60 C535.17,146.50 536.75,146.32 538.00,146.00 C539.25,145.68 540.77,145.40 542.10,144.70 C543.43,144.00 544.68,143.08 546.00,141.80 C547.32,140.52 548.67,138.80 550.00,137.00 C551.33,135.20 552.67,133.23 554.00,131.00 C555.33,128.77 556.62,126.52 558.00,123.60 C559.38,120.68 560.88,117.03 562.30,113.50 C563.72,109.97 565.25,105.98 566.50,102.40 C567.75,98.82 568.75,95.53 569.80,92.00 C570.85,88.47 571.77,84.78 572.80,81.20 C573.83,77.62 574.93,74.03 576.00,70.50 C577.07,66.97 578.15,63.25 579.20,60.00 C580.25,56.75 581.27,53.90 582.30,51.00 C583.33,48.10 584.20,45.35 585.40,42.60 C586.60,39.85 588.32,36.47 589.50,34.50 C590.68,32.53 591.50,31.65 592.50,30.80 C593.50,29.95 594.50,29.40 595.50,29.40 C596.50,29.40 597.50,29.87 598.50,30.80 C599.50,31.73 600.55,33.03 601.50,35.00 C602.45,36.97 603.03,38.43 604.20,42.60 C605.37,46.77 607.37,55.10 608.50,60.00 C609.63,64.90 610.12,68.47 611.00,72.00 C611.88,75.53 612.72,77.87 613.80,81.20 C614.88,84.53 616.27,88.47 617.50,92.00 C618.73,95.53 619.62,98.82 621.20,102.40 C622.78,105.98 625.07,109.97 627.00,113.50 C628.93,117.03 631.13,120.88 632.80,123.60 C634.47,126.32 635.40,128.03 637.00,129.80 C638.60,131.57 640.23,132.87 642.40,134.20 C644.57,135.53 647.53,136.62 650.00,137.80 C652.47,138.98 654.45,140.10 657.20,141.30 C659.95,142.50 663.53,144.12 666.50,145.00 C669.47,145.88 671.15,146.30 675.00,146.60 C678.85,146.90 687.17,146.77 689.60,146.80" fill="none" stroke="#ff0000" stroke-width="3.1" stroke-linejoin="round" stroke-linecap="butt" clip-path="url(#c02)"/>
<path d="M58.60,352.40 C60.05,350.50 64.28,344.60 67.30,341.00 C70.32,337.40 73.25,333.35 76.70,330.80 C80.15,328.25 84.55,326.37 88.00,325.70 C91.45,325.03 94.27,325.70 97.40,326.80 C100.53,327.90 103.35,330.27 106.80,332.30 C110.25,334.33 114.65,337.08 118.10,339.00 C121.55,340.92 124.52,342.53 127.50,343.80 C130.48,345.07 132.87,345.50 136.00,346.60 C139.13,347.70 142.38,349.15 146.30,350.40 C150.22,351.65 155.12,353.00 159.50,354.10 C163.88,355.20 167.90,356.22 172.60,357.00 C177.30,357.78 182.98,358.28 187.70,358.80 C192.42,359.32 196.47,359.63 200.90,360.10 C205.33,360.57 212.07,361.35 214.30,361.60" fill="none" stroke="#1e90ff" stroke-width="3.1" stroke-linejoin="round" stroke-linecap="butt" clip-path="url(#c10)"/>
<path d="M58.60,339.00 C58.95,336.08 59.88,327.75 60.70,321.50 C61.52,315.25 62.55,307.98 63.50,301.50 C64.45,295.02 65.45,288.88 66.40,282.60 C67.35,276.32 68.45,268.02 69.20,263.80 C69.95,259.58 70.28,258.83 70.90,257.30 C71.52,255.77 72.23,254.60 72.90,254.60 C73.57,254.60 74.27,255.77 74.90,257.30 C75.53,258.83 75.77,260.20 76.70,263.80 C77.63,267.40 79.25,273.87 80.50,278.90 C81.75,283.93 82.80,288.57 84.20,294.00 C85.60,299.43 87.33,306.17 88.90,311.50 C90.47,316.83 92.30,322.42 93.60,326.00 C94.90,329.58 95.43,330.42 96.70,333.00 C97.97,335.58 99.68,338.80 101.20,341.50 C102.72,344.20 104.23,347.28 105.80,349.20 C107.37,351.12 108.95,351.90 110.60,353.00 C112.25,354.10 113.97,355.05 115.70,355.80 C117.43,356.55 118.82,357.02 121.00,357.50 C123.18,357.98 125.97,358.02 128.80,358.70 C131.63,359.38 135.08,360.67 138.00,361.60 C140.92,362.53 142.72,363.67 146.30,364.30 C149.88,364.93 155.12,365.22 159.50,365.40 C163.88,365.58 169.15,365.37 172.60,365.40 C176.05,365.43 177.97,365.78 180.20,365.60 C182.43,365.42 184.12,364.65 186.00,364.30 C187.88,363.95 189.02,363.35 191.50,363.50 C193.98,363.65 197.10,364.72 200.90,365.20 C204.70,365.68 212.07,366.20 214.30,366.40" fill="none" stroke="#ff0000" stroke-width="3.1" stroke-linejoin="round" stroke-linecap="butt" clip-path="url(#c10)"/>
<path d="M296.60,367.10 C297.17,366.80 298.87,366.32 300.00,365.30 C301.13,364.28 302.40,362.72 303.40,361.00 C304.40,359.28 305.17,357.25 306.00,355.00 C306.83,352.75 307.50,351.83 308.40,347.50 C309.30,343.17 310.48,335.25 311.40,329.00 C312.32,322.75 312.82,317.92 313.90,310.00 C314.98,302.08 316.77,289.40 317.90,281.50 C319.03,273.60 319.77,268.88 320.70,262.60 C321.63,256.32 322.73,248.42 323.50,243.80 C324.27,239.18 324.67,236.82 325.30,234.90 C325.93,232.98 326.62,232.30 327.30,232.30 C327.98,232.30 328.62,232.98 329.40,234.90 C330.18,236.82 330.93,239.18 332.00,243.80 C333.07,248.42 334.55,256.32 335.80,262.60 C337.05,268.88 338.13,275.27 339.50,281.50 C340.87,287.73 342.83,294.92 344.00,300.00 C345.17,305.08 345.27,306.50 346.50,312.00 C347.73,317.50 349.80,327.23 351.40,333.00 C353.00,338.77 354.37,342.60 356.10,346.60 C357.83,350.60 359.75,354.52 361.80,357.00 C363.85,359.48 366.45,361.33 368.40,361.50 C370.35,361.67 371.65,359.08 373.50,358.00 C375.35,356.92 377.23,354.40 379.50,355.00 C381.77,355.60 384.58,360.02 387.10,361.60 C389.62,363.18 391.47,363.87 394.60,364.50 C397.73,365.13 402.77,366.18 405.90,365.40 C409.03,364.62 410.58,361.37 413.40,359.80 C416.22,358.23 419.67,355.53 422.80,356.00 C425.93,356.47 429.37,361.03 432.20,362.60 C435.03,364.17 437.28,365.20 439.80,365.40 C442.32,365.60 445.30,364.12 447.30,363.80 C449.30,363.48 451.05,363.55 451.80,363.50" fill="none" stroke="#1e90ff" stroke-width="3.1" stroke-linejoin="round" stroke-linecap="butt" clip-path="url(#c11)"/>
<path d="M296.60,364.00 C297.00,362.67 298.23,358.58 299.00,356.00 C299.77,353.42 300.15,353.17 301.20,348.50 C302.25,343.83 304.17,334.58 305.30,328.00 C306.43,321.42 306.68,316.75 308.00,309.00 C309.32,301.25 311.72,289.23 313.20,281.50 C314.68,273.77 316.02,267.05 316.90,262.60 C317.78,258.15 317.93,256.57 318.50,254.80 C319.07,253.03 319.67,252.23 320.30,252.00 C320.93,251.77 321.60,252.25 322.30,253.40 C323.00,254.55 323.20,255.17 324.50,258.90 C325.80,262.63 328.22,270.47 330.10,275.80 C331.98,281.13 334.07,286.20 335.80,290.90 C337.53,295.60 338.82,298.82 340.50,304.00 C342.18,309.18 344.55,317.73 345.90,322.00 C347.25,326.27 347.22,326.60 348.60,329.60 C349.98,332.60 352.32,337.27 354.20,340.00 C356.08,342.73 358.02,343.65 359.90,346.00 C361.78,348.35 363.62,351.75 365.50,354.10 C367.38,356.45 368.87,358.78 371.20,360.10 C373.53,361.42 376.23,361.27 379.50,362.00 C382.77,362.73 387.03,363.87 390.80,364.50 C394.57,365.13 398.33,365.48 402.10,365.80 C405.87,366.12 409.63,366.47 413.40,366.40 C417.17,366.33 420.62,365.40 424.70,365.40 C428.78,365.40 433.38,366.03 437.90,366.40 C442.42,366.77 449.48,367.40 451.80,367.60" fill="none" stroke="#ff0000" stroke-width="3.1" stroke-linejoin="round" stroke-linecap="butt" clip-path="url(#c11)"/>
<path d="M534.60,367.50 C535.27,367.38 537.37,367.47 538.60,366.80 C539.83,366.13 540.90,364.97 542.00,363.50 C543.10,362.03 544.20,360.42 545.20,358.00 C546.20,355.58 547.03,353.00 548.00,349.00 C548.97,345.00 550.08,338.50 551.00,334.00 C551.92,329.50 552.67,325.92 553.50,322.00 C554.33,318.08 555.03,314.42 556.00,310.50 C556.97,306.58 557.92,304.25 559.30,298.50 C560.68,292.75 562.58,283.42 564.30,276.00 C566.02,268.58 567.92,260.33 569.60,254.00 C571.28,247.67 573.17,241.42 574.40,238.00 C575.63,234.58 576.22,234.50 577.00,233.50 C577.78,232.50 578.43,232.08 579.10,232.00 C579.77,231.92 580.38,232.48 581.00,233.00 C581.62,233.52 581.72,233.67 582.80,235.10 C583.88,236.53 585.77,239.57 587.50,241.60 C589.23,243.63 591.63,244.63 593.20,247.30 C594.77,249.97 595.50,252.12 596.90,257.60 C598.30,263.08 600.17,273.63 601.60,280.20 C603.03,286.77 604.43,292.53 605.50,297.00 C606.57,301.47 607.25,304.33 608.00,307.00 C608.75,309.67 609.25,310.75 610.00,313.00 C610.75,315.25 611.58,318.53 612.50,320.50 C613.42,322.47 614.42,323.63 615.50,324.80 C616.58,325.97 618.00,326.63 619.00,327.50 C620.00,328.37 620.67,328.92 621.50,330.00 C622.33,331.08 623.17,332.58 624.00,334.00 C624.83,335.42 625.38,336.42 626.50,338.50 C627.62,340.58 629.33,344.13 630.70,346.50 C632.07,348.87 633.45,350.87 634.70,352.70 C635.95,354.53 636.82,356.02 638.20,357.50 C639.58,358.98 641.03,360.48 643.00,361.60 C644.97,362.72 647.27,363.48 650.00,364.20 C652.73,364.92 655.08,365.67 659.40,365.90 C663.72,366.13 670.87,365.40 675.90,365.60 C680.93,365.80 687.32,366.85 689.60,367.10" fill="none" stroke="#1e90ff" stroke-width="3.1" stroke-linejoin="round" stroke-linecap="butt" clip-path="url(#c12)"/>
<path d="M534.60,354.50 C535.25,352.92 537.15,348.58 538.50,345.00 C539.85,341.42 540.97,337.83 542.70,333.00 C544.43,328.17 546.77,321.75 548.90,316.00 C551.03,310.25 553.22,304.75 555.50,298.50 C557.78,292.25 560.68,282.62 562.60,278.50 C564.52,274.38 565.38,274.95 567.00,273.80 C568.62,272.65 570.28,271.47 572.30,271.60 C574.32,271.73 576.72,272.85 579.10,274.60 C581.48,276.35 584.20,279.28 586.60,282.10 C589.00,284.92 591.27,288.60 593.50,291.50 C595.73,294.40 597.70,297.00 600.00,299.50 C602.30,302.00 605.30,304.45 607.30,306.50 C609.30,308.55 610.30,309.82 612.00,311.80 C613.70,313.78 615.32,315.43 617.50,318.40 C619.68,321.37 622.58,325.83 625.10,329.60 C627.62,333.37 630.10,338.02 632.60,341.00 C635.10,343.98 637.60,345.78 640.10,347.50 C642.60,349.22 644.45,350.20 647.60,351.30 C650.75,352.40 655.23,353.00 659.00,354.10 C662.77,355.20 666.45,356.48 670.20,357.90 C673.95,359.32 678.27,361.42 681.50,362.60 C684.73,363.78 688.25,364.60 689.60,365.00" fill="none" stroke="#ff0000" stroke-width="3.1" stroke-linejoin="round" stroke-linecap="butt" clip-path="url(#c12)"/>
<rect x="58.75" y="2.10" width="155.55" height="145.10" fill="none" stroke="#000" stroke-width="1.30"/>
<rect x="295.90" y="2.10" width="155.95" height="145.10" fill="none" stroke="#000" stroke-width="1.30"/>
<rect x="534.00" y="2.10" width="155.60" height="145.10" fill="none" stroke="#000" stroke-width="1.30"/>
<rect x="58.75" y="223.50" width="155.55" height="145.00" fill="none" stroke="#000" stroke-width="1.30"/>
<rect x="295.90" y="223.50" width="155.95" height="145.00" fill="none" stroke="#000" stroke-width="1.30"/>
<rect x="534.00" y="223.50" width="155.60" height="145.00" fill="none" stroke="#000" stroke-width="1.30"/>
<line x1="58.75" y1="147.20" x2="58.75" y2="153.40" stroke="#000" stroke-width="1.30"/>
<text x="58.25" y="170.80" text-anchor="middle" font-size="16" font-family="Liberation Serif, serif" fill="#1a1a1a">0</text>
<line x1="136.50" y1="147.20" x2="136.50" y2="153.40" stroke="#000" stroke-width="1.30"/>
<text x="136.00" y="170.80" text-anchor="middle" font-size="16" font-family="Liberation Serif, serif" fill="#1a1a1a">10</text>
<line x1="214.30" y1="147.20" x2="214.30" y2="153.40" stroke="#000" stroke-width="1.30"/>
<text x="213.80" y="170.80" text-anchor="middle" font-size="16" font-family="Liberation Serif, serif" fill="#1a1a1a">20</text>
<line x1="311.60" y1="147.20" x2="311.60" y2="153.40" stroke="#000" stroke-width="1.30"/>
<text x="311.10" y="170.80" text-anchor="middle" font-size="16" font-family="Liberation Serif, serif" fill="#1a1a1a">200</text>
<line x1="373.90" y1="147.20" x2="373.90" y2="153.40" stroke="#000" stroke-width="1.30"/>
<text x="373.40" y="170.80" text-anchor="middle" font-size="16" font-family="Liberation Serif, serif" fill="#1a1a1a">400</text>
<line x1="436.20" y1="147.20" x2="436.20" y2="153.40" stroke="#000" stroke-width="1.30"/>
<text x="435.70" y="170.80" text-anchor="middle" font-size="16" font-family="Liberation Serif, serif" fill="#1a1a1a">600</text>
<line x1="534.00" y1="147.20" x2="534.00" y2="153.40" stroke="#000" stroke-width="1.30"/>
<text x="533.50" y="170.80" text-anchor="middle" font-size="16" font-family="Liberation Serif, serif" fill="#1a1a1a">0</text>
<line x1="611.80" y1="147.20" x2="611.80" y2="153.40" stroke="#000" stroke-width="1.30"/>
<text x="611.30" y="170.80" text-anchor="middle" font-size="16" font-family="Liberation Serif, serif" fill="#1a1a1a">50</text>
<line x1="689.60" y1="147.20" x2="689.60" y2="153.40" stroke="#000" stroke-width="1.30"/>
<text x="689.10" y="170.80" text-anchor="middle" font-size="16" font-family="Liberation Serif, serif" fill="#1a1a1a">100</text>
<line x1="58.75" y1="368.50" x2="58.75" y2="374.70" stroke="#000" stroke-width="1.30"/>
<text x="58.25" y="392.60" text-anchor="middle" font-size="16" font-family="Liberation Serif, serif" fill="#1a1a1a">0.00</text>
<line x1="110.60" y1="368.50" x2="110.60" y2="374.70" stroke="#000" stroke-width="1.30"/>
<text x="110.10" y="392.60" text-anchor="middle" font-size="16" font-family="Liberation Serif, serif" fill="#1a1a1a">0.25</text>
<line x1="162.45" y1="368.50" x2="162.45" y2="374.70" stroke="#000" stroke-width="1.30"/>
<text x="161.95" y="392.60" text-anchor="middle" font-size="16" font-family="Liberation Serif, serif" fill="#1a1a1a">0.50</text>
<line x1="214.30" y1="368.50" x2="214.30" y2="374.70" stroke="#000" stroke-width="1.30"/>
<text x="213.80" y="392.60" text-anchor="middle" font-size="16" font-family="Liberation Serif, serif" fill="#1a1a1a">0.75</text>
<line x1="295.90" y1="368.50" x2="295.90" y2="374.70" stroke="#000" stroke-width="1.30"/>
<text x="295.40" y="392.60" text-anchor="middle" font-size="16" font-family="Liberation Serif, serif" fill="#1a1a1a">0</text>
<line x1="347.90" y1="368.50" x2="347.90" y2="374.70" stroke="#000" stroke-width="1.30"/>
<text x="347.40" y="392.60" text-anchor="middle" font-size="16" font-family="Liberation Serif, serif" fill="#1a1a1a">10</text>
<line x1="399.90" y1="368.50" x2="399.90" y2="374.70" stroke="#000" stroke-width="1.30"/>
<text x="399.40" y="392.60" text-anchor="middle" font-size="16" font-family="Liberation Serif, serif" fill="#1a1a1a">20</text>
<line x1="451.85" y1="368.50" x2="451.85" y2="374.70" stroke="#000" stroke-width="1.30"/>
<text x="451.35" y="392.60" text-anchor="middle" font-size="16" font-family="Liberation Serif, serif" fill="#1a1a1a">30</text>
<line x1="534.00" y1="368.50" x2="534.00" y2="374.70" stroke="#000" stroke-width="1.30"/>
<text x="533.50" y="392.60" text-anchor="middle" font-size="16" font-family="Liberation Serif, serif" fill="#1a1a1a">0</text>
<line x1="585.90" y1="368.50" x2="585.90" y2="374.70" stroke="#000" stroke-width="1.30"/>
<text x="585.40" y="392.60" text-anchor="middle" font-size="16" font-family="Liberation Serif, serif" fill="#1a1a1a">10</text>
<line x1="637.70" y1="368.50" x2="637.70" y2="374.70" stroke="#000" stroke-width="1.30"/>
<text x="637.20" y="392.60" text-anchor="middle" font-size="16" font-family="Liberation Serif, serif" fill="#1a1a1a">20</text>
<line x1="689.60" y1="368.50" x2="689.60" y2="374.70" stroke="#000" stroke-width="1.30"/>
<text x="689.10" y="392.60" text-anchor="middle" font-size="16" font-family="Liberation Serif, serif" fill="#1a1a1a">30</text>
<line x1="52.55" y1="147.20" x2="58.75" y2="147.20" stroke="#000" stroke-width="1.30"/>
<text x="46.25" y="153.40" text-anchor="end" font-size="16" font-family="Liberation Serif, serif" fill="#1a1a1a">0.0</text>
<line x1="52.55" y1="104.50" x2="58.75" y2="104.50" stroke="#000" stroke-width="1.30"/>
<text x="46.25" y="110.70" text-anchor="end" font-size="16" font-family="Liberation Serif, serif" fill="#1a1a1a">0.1</text>
<line x1="52.55" y1="61.70" x2="58.75" y2="61.70" stroke="#000" stroke-width="1.30"/>
<text x="46.25" y="67.90" text-anchor="end" font-size="16" font-family="Liberation Serif, serif" fill="#1a1a1a">0.2</text>
<line x1="52.55" y1="19.00" x2="58.75" y2="19.00" stroke="#000" stroke-width="1.30"/>
<text x="46.25" y="25.20" text-anchor="end" font-size="16" font-family="Liberation Serif, serif" fill="#1a1a1a">0.3</text>
<line x1="289.70" y1="147.20" x2="295.90" y2="147.20" stroke="#000" stroke-width="1.30"/>
<text x="283.40" y="153.40" text-anchor="end" font-size="16" font-family="Liberation Serif, serif" fill="#1a1a1a">0.000</text>
<line x1="289.70" y1="84.90" x2="295.90" y2="84.90" stroke="#000" stroke-width="1.30"/>
<text x="283.40" y="91.10" text-anchor="end" font-size="16" font-family="Liberation Serif, serif" fill="#1a1a1a">0.005</text>
<line x1="289.70" y1="22.60" x2="295.90" y2="22.60" stroke="#000" stroke-width="1.30"/>
<text x="283.40" y="28.80" text-anchor="end" font-size="16" font-family="Liberation Serif, serif" fill="#1a1a1a">0.010</text>
<line x1="527.80" y1="147.20" x2="534.00" y2="147.20" stroke="#000" stroke-width="1.30"/>
<text x="521.50" y="153.40" text-anchor="end" font-size="16" font-family="Liberation Serif, serif" fill="#1a1a1a">0.00</text>
<line x1="527.80" y1="107.90" x2="534.00" y2="107.90" stroke="#000" stroke-width="1.30"/>
<text x="521.50" y="114.10" text-anchor="end" font-size="16" font-family="Liberation Serif, serif" fill="#1a1a1a">0.01</text>
<line x1="527.80" y1="68.50" x2="534.00" y2="68.50" stroke="#000" stroke-width="1.30"/>
<text x="521.50" y="74.70" text-anchor="end" font-size="16" font-family="Liberation Serif, serif" fill="#1a1a1a">0.02</text>
<line x1="527.80" y1="29.20" x2="534.00" y2="29.20" stroke="#000" stroke-width="1.30"/>
<text x="521.50" y="35.40" text-anchor="end" font-size="16" font-family="Liberation Serif, serif" fill="#1a1a1a">0.03</text>
<line x1="52.55" y1="368.50" x2="58.75" y2="368.50" stroke="#000" stroke-width="1.30"/>
<text x="46.25" y="374.70" text-anchor="end" font-size="16" font-family="Liberation Serif, serif" fill="#1a1a1a">0</text>
<line x1="52.55" y1="328.10" x2="58.75" y2="328.10" stroke="#000" stroke-width="1.30"/>
<text x="46.25" y="334.30" text-anchor="end" font-size="16" font-family="Liberation Serif, serif" fill="#1a1a1a">2</text>
<line x1="52.55" y1="287.60" x2="58.75" y2="287.60" stroke="#000" stroke-width="1.30"/>
<text x="46.25" y="293.80" text-anchor="end" font-size="16" font-family="Liberation Serif, serif" fill="#1a1a1a">4</text>
<line x1="52.55" y1="247.20" x2="58.75" y2="247.20" stroke="#000" stroke-width="1.30"/>
<text x="46.25" y="253.40" text-anchor="end" font-size="16" font-family="Liberation Serif, serif" fill="#1a1a1a">6</text>
<line x1="289.70" y1="368.50" x2="295.90" y2="368.50" stroke="#000" stroke-width="1.30"/>
<text x="283.40" y="374.70" text-anchor="end" font-size="16" font-family="Liberation Serif, serif" fill="#1a1a1a">0.00</text>
<line x1="289.70" y1="323.60" x2="295.90" y2="323.60" stroke="#000" stroke-width="1.30"/>
<text x="283.40" y="329.80" text-anchor="end" font-size="16" font-family="Liberation Serif, serif" fill="#1a1a1a">0.05</text>
<line x1="289.70" y1="278.80" x2="295.90" y2="278.80" stroke="#000" stroke-width="1.30"/>
<text x="283.40" y="285.00" text-anchor="end" font-size="16" font-family="Liberation Serif, serif" fill="#1a1a1a">0.10</text>
<line x1="289.70" y1="233.90" x2="295.90" y2="233.90" stroke="#000" stroke-width="1.30"/>
<text x="283.40" y="240.10" text-anchor="end" font-size="16" font-family="Liberation Serif, serif" fill="#1a1a1a">0.15</text>
<line x1="527.80" y1="368.50" x2="534.00" y2="368.50" stroke="#000" stroke-width="1.30"/>
<text x="521.50" y="374.70" text-anchor="end" font-size="16" font-family="Liberation Serif, serif" fill="#1a1a1a">0.00</text>
<line x1="527.80" y1="299.00" x2="534.00" y2="299.00" stroke="#000" stroke-width="1.30"/>
<text x="521.50" y="305.20" text-anchor="end" font-size="16" font-family="Liberation Serif, serif" fill="#1a1a1a">0.05</text>
<line x1="527.80" y1="229.45" x2="534.00" y2="229.45" stroke="#000" stroke-width="1.30"/>
<text x="521.50" y="235.65" text-anchor="end" font-size="16" font-family="Liberation Serif, serif" fill="#1a1a1a">0.10</text>
<text transform="translate(16.0,75.6) rotate(-90)" text-anchor="middle" font-size="21.5" letter-spacing="1.1" font-family="Liberation Serif, serif" fill="#1a1a1a">PDFs</text>
<text transform="translate(28.0,296.8) rotate(-90)" text-anchor="middle" font-size="21.5" letter-spacing="1.1" font-family="Liberation Serif, serif" fill="#1a1a1a">PDFs</text>
<text x="195.90" y="127.80" text-anchor="middle" font-size="17.2" font-family="Liberation Serif, serif"  fill="#1a1a1a">(a)</text>
<text x="439.00" y="127.80" text-anchor="middle" font-size="17.2" font-family="Liberation Serif, serif"  fill="#1a1a1a">(b)</text>
<text x="674.30" y="127.80" text-anchor="middle" font-size="17.2" font-family="Liberation Serif, serif"  fill="#1a1a1a">(c)</text>
<text x="191.90" y="344.30" text-anchor="middle" font-size="17.2" font-family="Liberation Serif, serif"  fill="#1a1a1a">(d)</text>
<text x="439.50" y="346.70" text-anchor="middle" font-size="17.2" font-family="Liberation Serif, serif"  fill="#1a1a1a">(e)</text>
<text x="676.20" y="348.40" text-anchor="middle" font-size="17.2" font-family="Liberation Serif, serif"  fill="#1a1a1a">(f)</text>
<path d="M95.50,181.60 L90.90,191.80 L95.50,202.00" fill="none" stroke="#1a1a1a" stroke-width="1.05"/>
<text x="102.50" y="197.50" text-anchor="middle" font-size="21" font-family="Liberation Serif, serif" font-style="italic" fill="#1a1a1a">n</text>
<path d="M109.50,181.60 L114.80,191.80 L109.50,202.00" fill="none" stroke="#1a1a1a" stroke-width="1.05"/>
<path d="M129.30,182.10 L126.50,182.10 L126.50,201.50 L129.30,201.50" fill="none" stroke="#1a1a1a" stroke-width="1.0"/>
<text x="142.50" y="197.50" text-anchor="middle" font-size="21" font-family="Liberation Serif, serif"  fill="#1a1a1a">cm</text>
<rect x="157.30" y="184.70" width="7.70" height="0.95" fill="#1a1a1a"/>
<text x="169.30" y="189.00" text-anchor="middle" font-size="14.5" font-family="Liberation Serif, serif"  fill="#1a1a1a">3</text>
<path d="M174.50,182.10 L177.20,182.10 L177.20,201.50 L174.50,201.50" fill="none" stroke="#1a1a1a" stroke-width="1.0"/>
<path d="M319.90,182.00 L314.50,192.15 L319.90,202.30" fill="none" stroke="#1a1a1a" stroke-width="1.05"/>
<line x1="322.90" y1="182.00" x2="322.90" y2="202.30" stroke="#1a1a1a" stroke-width="1.1"/>
<text x="332.90" y="197.30" text-anchor="middle" font-size="21" font-family="Liberation Serif, serif" font-weight="bold" fill="#1a1a1a">u</text>
<line x1="341.70" y1="182.00" x2="341.70" y2="202.30" stroke="#1a1a1a" stroke-width="1.1"/>
<path d="M345.80,182.00 L351.30,192.15 L345.80,202.30" fill="none" stroke="#1a1a1a" stroke-width="1.05"/>
<path d="M364.80,182.50 L362.10,182.50 L362.10,201.80 L364.80,201.80" fill="none" stroke="#1a1a1a" stroke-width="1.0"/>
<text x="378.45" y="197.30" text-anchor="middle" font-size="21" font-family="Liberation Serif, serif"  fill="#1a1a1a">km</text>
<text x="402.15" y="197.30" text-anchor="middle" font-size="21" font-family="Liberation Serif, serif"  fill="#1a1a1a">s</text>
<rect x="407.80" y="185.50" width="8.80" height="0.95" fill="#1a1a1a"/>
<text x="421.30" y="189.00" text-anchor="middle" font-size="14.5" font-family="Liberation Serif, serif"  fill="#1a1a1a">1</text>
<path d="M426.10,182.50 L429.10,182.50 L429.10,201.80 L426.10,201.80" fill="none" stroke="#1a1a1a" stroke-width="1.0"/>
<g transform="translate(0,0.6)">
<path d="M551.30,179.20 L545.90,189.35 L551.30,199.50" fill="none" stroke="#1a1a1a" stroke-width="1.05"/>
<line x1="554.30" y1="179.20" x2="554.30" y2="199.50" stroke="#1a1a1a" stroke-width="1.1"/>
<text x="564.60" y="194.00" text-anchor="middle" font-size="21" font-family="Liberation Serif, serif" font-weight="bold" fill="#1a1a1a">u</text>
<text x="576.00" y="197.60" text-anchor="middle" font-size="13.5" font-family="Liberation Serif, serif"  fill="#1a1a1a">A</text>
<line x1="584.60" y1="179.20" x2="584.60" y2="199.50" stroke="#1a1a1a" stroke-width="1.1"/>
<path d="M588.70,179.20 L593.60,189.35 L588.70,199.50" fill="none" stroke="#1a1a1a" stroke-width="1.05"/>
<path d="M608.10,179.70 L605.10,179.70 L605.10,199.00 L608.10,199.00" fill="none" stroke="#1a1a1a" stroke-width="1.0"/>
<text x="621.75" y="194.30" text-anchor="middle" font-size="21" font-family="Liberation Serif, serif"  fill="#1a1a1a">km</text>
<text x="645.70" y="194.30" text-anchor="middle" font-size="21" font-family="Liberation Serif, serif"  fill="#1a1a1a">s</text>
<rect x="650.80" y="182.70" width="8.80" height="0.95" fill="#1a1a1a"/>
<text x="664.50" y="186.30" text-anchor="middle" font-size="14.5" font-family="Liberation Serif, serif"  fill="#1a1a1a">1</text>
<path d="M669.10,179.70 L672.10,179.70 L672.10,199.00 L669.10,199.00" fill="none" stroke="#1a1a1a" stroke-width="1.0"/>
</g>
<path d="M112.90,401.60 L108.20,411.80 L112.90,422.00" fill="none" stroke="#1a1a1a" stroke-width="1.05"/>
<line x1="117.00" y1="401.60" x2="117.00" y2="422.00" stroke="#1a1a1a" stroke-width="1.1"/>
<path d="M121.50,416.30 L128.25,404.30 L135.00,416.30 Z" fill="none" stroke="#1a1a1a" stroke-width="1.1" stroke-linejoin="miter"/>
<path d="M128.65,405.10 L134.40,416.10" fill="none" stroke="#1a1a1a" stroke-width="2.0"/>
<path d="M121.90,415.80 L134.60,415.80" fill="none" stroke="#1a1a1a" stroke-width="1.8"/>
<text x="142.50" y="416.50" text-anchor="middle" font-size="21" font-family="Liberation Serif, serif" font-style="italic" fill="#1a1a1a">n</text>
<line x1="151.50" y1="401.60" x2="151.50" y2="422.00" stroke="#1a1a1a" stroke-width="1.1"/>
<path d="M155.50,401.60 L160.00,411.80 L155.50,422.00" fill="none" stroke="#1a1a1a" stroke-width="1.05"/>
<g transform="translate(0,0.7)">
<path d="M311.30,403.00 L305.90,413.20 L311.30,423.40" fill="none" stroke="#1a1a1a" stroke-width="1.05"/>
<line x1="314.30" y1="403.00" x2="314.30" y2="423.40" stroke="#1a1a1a" stroke-width="1.1"/>
<path d="M318.80,418.10 L325.70,405.50 L332.60,418.10 Z" fill="none" stroke="#1a1a1a" stroke-width="1.1" stroke-linejoin="miter"/>
<path d="M326.10,406.30 L332.00,417.90" fill="none" stroke="#1a1a1a" stroke-width="2.0"/>
<path d="M319.20,417.60 L332.20,417.60" fill="none" stroke="#1a1a1a" stroke-width="1.8"/>
<text x="341.10" y="418.40" text-anchor="middle" font-size="21" font-family="Liberation Serif, serif" font-weight="bold" fill="#1a1a1a">u</text>
<line x1="349.70" y1="403.00" x2="349.70" y2="423.40" stroke="#1a1a1a" stroke-width="1.1"/>
<path d="M353.80,403.00 L358.80,413.20 L353.80,423.40" fill="none" stroke="#1a1a1a" stroke-width="1.05"/>
<path d="M373.00,403.50 L370.40,403.50 L370.40,422.90 L373.00,422.90" fill="none" stroke="#1a1a1a" stroke-width="1.0"/>
<text x="386.70" y="418.40" text-anchor="middle" font-size="21" font-family="Liberation Serif, serif"  fill="#1a1a1a">km</text>
<text x="410.40" y="418.40" text-anchor="middle" font-size="21" font-family="Liberation Serif, serif"  fill="#1a1a1a">s</text>
<rect x="416.00" y="407.10" width="8.80" height="0.95" fill="#1a1a1a"/>
<text x="429.30" y="409.90" text-anchor="middle" font-size="14.5" font-family="Liberation Serif, serif"  fill="#1a1a1a">1</text>
<path d="M433.80,403.50 L436.80,403.50 L436.80,422.90 L433.80,422.90" fill="none" stroke="#1a1a1a" stroke-width="1.0"/>
</g>
<g transform="translate(0,0.4)">
<path d="M543.00,400.20 L537.60,410.40 L543.00,420.60" fill="none" stroke="#1a1a1a" stroke-width="1.05"/>
<line x1="546.00" y1="400.20" x2="546.00" y2="420.60" stroke="#1a1a1a" stroke-width="1.1"/>
<path d="M550.50,415.30 L557.45,402.60 L564.40,415.30 Z" fill="none" stroke="#1a1a1a" stroke-width="1.1" stroke-linejoin="miter"/>
<path d="M557.85,403.40 L563.80,415.10" fill="none" stroke="#1a1a1a" stroke-width="2.0"/>
<path d="M550.90,414.80 L564.00,414.80" fill="none" stroke="#1a1a1a" stroke-width="1.8"/>
<text x="573.10" y="415.60" text-anchor="middle" font-size="21" font-family="Liberation Serif, serif" font-weight="bold" fill="#1a1a1a">u</text>
<text x="584.00" y="419.00" text-anchor="middle" font-size="13.5" font-family="Liberation Serif, serif"  fill="#1a1a1a">A</text>
<line x1="593.40" y1="400.20" x2="593.40" y2="420.60" stroke="#1a1a1a" stroke-width="1.1"/>
<path d="M597.00,400.20 L601.90,410.40 L597.00,420.60" fill="none" stroke="#1a1a1a" stroke-width="1.05"/>
<path d="M616.60,400.70 L613.70,400.70 L613.70,420.10 L616.60,420.10" fill="none" stroke="#1a1a1a" stroke-width="1.0"/>
<text x="629.90" y="415.60" text-anchor="middle" font-size="21" font-family="Liberation Serif, serif"  fill="#1a1a1a">km</text>
<text x="653.65" y="415.60" text-anchor="middle" font-size="21" font-family="Liberation Serif, serif"  fill="#1a1a1a">s</text>
<rect x="658.70" y="403.50" width="8.80" height="0.95" fill="#1a1a1a"/>
<text x="672.30" y="407.60" text-anchor="middle" font-size="14.5" font-family="Liberation Serif, serif"  fill="#1a1a1a">1</text>
<path d="M676.70,400.70 L679.60,400.70 L679.60,420.10 L676.70,420.10" fill="none" stroke="#1a1a1a" stroke-width="1.0"/>
</g>
<rect x="102.2" y="10.1" width="103.5" height="55.2" rx="3.5" ry="3.5" fill="rgba(255,255,255,0.8)" stroke="#d2d2d2" stroke-width="1.2"/>
<line x1="107.5" y1="24.4" x2="145.1" y2="24.4" stroke="#1e90ff" stroke-width="3.1"/>
<line x1="107.5" y1="49.0" x2="145.1" y2="49.0" stroke="#ff0000" stroke-width="3.1"/>
<text x="155.3" y="30.0" font-size="17.8" word-spacing="3.5" font-family="Liberation Serif, serif" fill="#1a1a1a">Set A</text>
<text x="155.3" y="55.2" font-size="17.8" word-spacing="3.5" font-family="Liberation Serif, serif" fill="#1a1a1a">Set B</text></svg>
</body></html>
